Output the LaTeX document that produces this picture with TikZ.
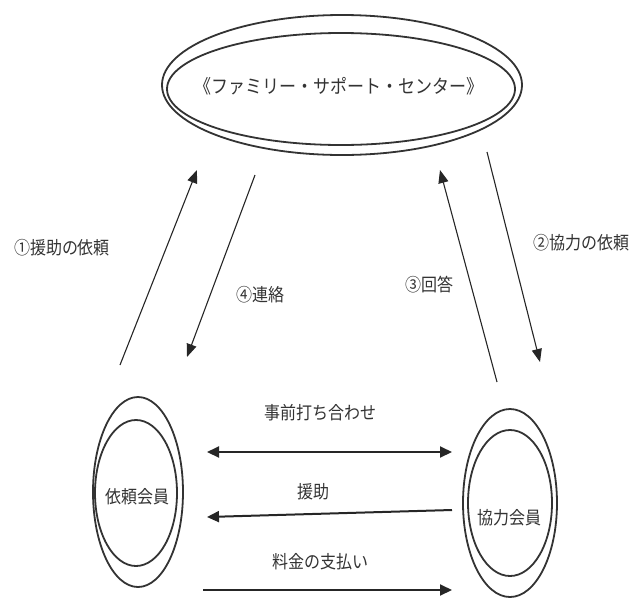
\documentclass[tikz,border=0pt]{standalone}
\usepackage{fontspec}
\newfontfamily\jp{Noto Sans CJK JP}
\usetikzlibrary{shapes.geometric,arrows.meta}
\begin{document}
\begin{tikzpicture}[x=1pt,y=-1pt,
  ring/.style={ellipse,draw=black!80,line width=1.8pt,inner sep=0pt},
  lbl/.style={font=\jp\fontsize{16}{18}\selectfont,text=black!80,yscale=1.12},
  darr/.style={draw=black!85,line width=1.1pt,-{Triangle[length=13pt,width=10pt]}},
  harr/.style={draw=black!85,line width=2pt,-{Triangle[length=12pt,width=11pt]}},
  hdarr/.style={draw=black!85,line width=2pt,{Triangle[length=12pt,width=11pt]}-{Triangle[length=12pt,width=11pt]}}]
\useasboundingbox (0,0) rectangle (643,603);
% rings
\node[ring,minimum width=360pt,minimum height=140pt] (fsc) at (342,85) {};
\node[ring,minimum width=348pt,minimum height=112pt] (fsci) at (341,89) {};
\node[lbl,font=\jp\fontsize{17}{19}\selectfont] (fsct) at (339,86) {《ファミリー・サポート・センター》};
\node[ring,minimum width=90pt,minimum height=190pt] (irai) at (138,492) {};
\node[ring,minimum width=82pt,minimum height=146pt] (iraii) at (136,493) {};
\node[lbl] (iraitxt) at (137,497) {依頼会員};
\node[ring,minimum width=94pt,minimum height=188pt] (kyo) at (510,503) {};
\node[ring,minimum width=84pt,minimum height=146pt] (kyoi) at (510,503) {};
\node[lbl] (kyotxt) at (509,518) {協力会員};
% arrow end points
\coordinate (a1s) at (120,365); \coordinate (a1e) at (197,170);
\coordinate (a4s) at (255,175); \coordinate (a4e) at (187,357);
\coordinate (a3s) at (497,382); \coordinate (a3e) at (440,170);
\coordinate (a2s) at (487,152); \coordinate (a2e) at (540,362);
\coordinate (h1s) at (207,452); \coordinate (h1e) at (452,452);
\coordinate (h2s) at (452,510); \coordinate (h2e) at (207,517);
\coordinate (h3s) at (203,590); \coordinate (h3e) at (452,590);
\draw[darr] (a1s) -- (a1e);
\draw[darr] (a4s) -- (a4e);
\draw[darr] (a3s) -- (a3e);
\draw[darr] (a2s) -- (a2e);
\draw[hdarr] (h1s) -- (h1e);
\draw[harr] (h2s) -- (h2e);
\draw[harr] (h3s) -- (h3e);
% labels
\node[lbl] (l1) at (62,248) {①援助の依頼};
\node[lbl] (l4) at (260,295) {④連絡};
\node[lbl] (l2) at (581,243) {②協力の依頼};
\node[lbl] (l3) at (429,285) {③回答};
\node[lbl] (lh1) at (320,413) {事前打ち合わせ};
\node[lbl] (lh2) at (313,492) {援助};
\node[lbl] (lh3) at (320,562) {料金の支払い};
\end{tikzpicture}
\end{document}
